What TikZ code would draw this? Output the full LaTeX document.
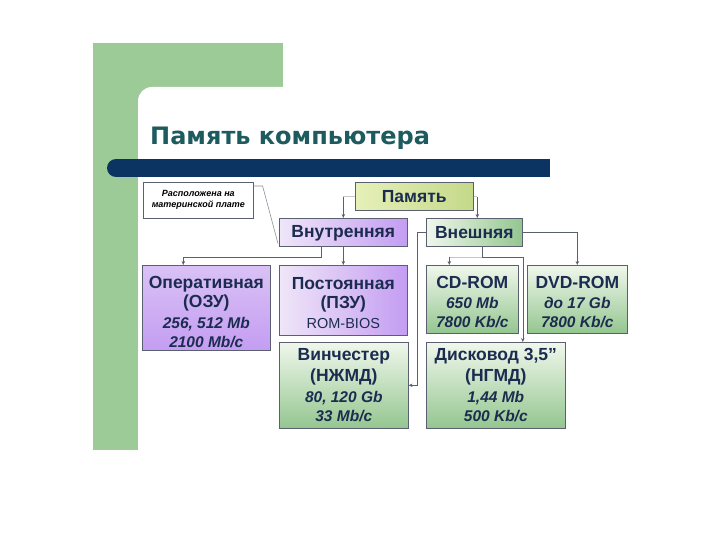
\documentclass[tikz,border=0pt]{standalone}
\usepackage{fontspec}
\setmainfont{Liberation Sans}
\newfontfamily\titlefont{DejaVu Sans}
\usetikzlibrary{arrows.meta,shadings}
\definecolor{bggreen}{HTML}{9DCB97}
\definecolor{barblue}{HTML}{0B3463}
\definecolor{titlecol}{HTML}{1E5B5F}
\definecolor{txt}{HTML}{1C2C50}
\definecolor{purpA}{HTML}{EFE6F8}
\definecolor{purpB}{HTML}{C49DF2}
\definecolor{greenA}{HTML}{F0F7EC}
\definecolor{greenB}{HTML}{94C690}
\definecolor{yelA}{HTML}{E6F0B8}
\definecolor{yelB}{HTML}{C4D98A}
\definecolor{edge}{HTML}{5A6070}
\tikzset{
  box/.style={draw=edge, line width=0.6pt, anchor=north west, align=center,
    text=txt, inner sep=0pt, font=\bfseries\fontsize{17.5}{19}\selectfont},
  purplebox/.style={box, left color=purpA, right color=purpB},
  purpledeep/.style={box, top color=purpA!50!purpB, bottom color=purpB},
  greenbox/.style={box, shading=axis, shading angle=135, top color=greenA, bottom color=greenB},
  greenside/.style={box, left color=greenA, right color=greenB},
  yelbox/.style={box, left color=yelA, right color=yelB},
  conn/.style={draw=edge, line width=0.6pt},
  arr/.style={conn, -{Stealth[length=4pt,width=3.5pt]}},
  faint/.style={draw=edge!35, line width=0.5pt},
}
\newcommand{\specline}[1]{{\itshape\fontsize{15.5}{17}\selectfont #1}}
\begin{document}
\begin{tikzpicture}[x=1pt,y=-1pt]
\useasboundingbox (0,0) rectangle (720,540);
\fill[white] (0,0) rectangle (720,540);
\fill[bggreen] (93,43) rectangle (283,450);
\fill[white, rounded corners=14pt] (138,87) rectangle (720,540);
\node[anchor=base west, text=titlecol, font=\titlefont\bfseries\fontsize{24}{30}\selectfont, inner sep=0pt] (title) at (150,145) {Память компьютера};
\fill[barblue] (116,159) rectangle (550,177);
\fill[barblue] (116,168) circle (9pt);

\node[box, fill=white, minimum width=110pt, minimum height=36pt,
  font=\bfseries\itshape\fontsize{9}{11}\selectfont, text=black] (note) at (143,182) {Расположена на\\материнской плате};
\node[yelbox, minimum width=118pt, minimum height=28pt] (mem) at (355,182) {Память};
\node[purplebox, minimum width=128pt, minimum height=28pt] (inner) at (279,218) {\rule{0pt}{15pt}Внутренняя};
\node[greenside, minimum width=96pt, minimum height=28pt] (ext) at (426,218) {Внешняя};
\node[purpledeep, minimum width=128pt, minimum height=85pt] (ram) at (142,265) {\rule{0pt}{20pt}Оперативная\\(ОЗУ)\\[2pt]\specline{256, 512 Mb}\\\specline{2100 Mb/c}};
\node[purplebox, minimum width=128pt, minimum height=70pt] (rom) at (279,265) {\rule{0pt}{18pt}Постоянная\\(ПЗУ)\\[1pt]{\mdseries\fontsize{14.5}{17}\selectfont ROM-BIOS}};
\node[greenbox, minimum width=92pt, minimum height=68pt] (cd) at (426,265) {\rule{0pt}{18pt}CD-ROM\\[1pt]\specline{650 Mb}\\\specline{7800 Kb/c}};
\node[greenbox, minimum width=100pt, minimum height=68pt] (dvd) at (527,265) {\rule{0pt}{18pt}DVD-ROM\\[1pt]\specline{до 17 Gb}\\\specline{7800 Kb/c}};
\node[greenbox, minimum width=129pt, minimum height=86pt] (hdd) at (279,342) {Винчестер\\[2pt](НЖМД)\\[2pt]\specline{80, 120 Gb}\\\specline{33 Mb/c}};
\node[greenbox, minimum width=139pt, minimum height=86pt] (fdd) at (426,342) {Дисковод 3,5''\\[2pt](НГМД)\\[2pt]\specline{1,44 Mb}\\\specline{500 Kb/c}};

% callout
\draw[conn, draw=edge!70] ([yshift=-4pt]note.north east) -- ++(9,0) -- ([shift={(-1pt,3pt)}]inner.south west);
% from Память
\draw[faint] (mem.west) -- (inner.north |- mem.west);
\draw[arr] ([yshift=-1pt]inner.north |- mem.west) -- (inner.north);
\draw[faint] (mem.east) -- ([xshift=3pt]ext.north |- mem.east);
\draw[arr] ([xshift=3pt, yshift=-1pt]ext.north |- mem.east) -- ([xshift=3pt]ext.north);
% from Внутренняя
\draw[arr] ([xshift=-22pt]inner.south) -- ++(0,11) -| ([xshift=-23pt]ram.north);
\draw[arr] (inner.south) -- (rom.north);
% from Внешняя
\draw[arr] (ext.west) -- ++(-9,0) |- (hdd.east);
\draw[arr] (ext.east) -| (dvd.north);
\draw[arr] ([xshift=8pt]ext.south) -- ++(0,11) -| ([xshift=27pt]fdd.north);
\draw[faint] ([xshift=8pt, yshift=-11pt]ext.south) -- ([xshift=-23pt, yshift=-11pt]ext.south -| cd.north);
\draw[arr] ([xshift=-23pt]cd.north |- ext.south) ++(0,10) -- ([xshift=-23pt]cd.north);
\end{tikzpicture}
\end{document}
